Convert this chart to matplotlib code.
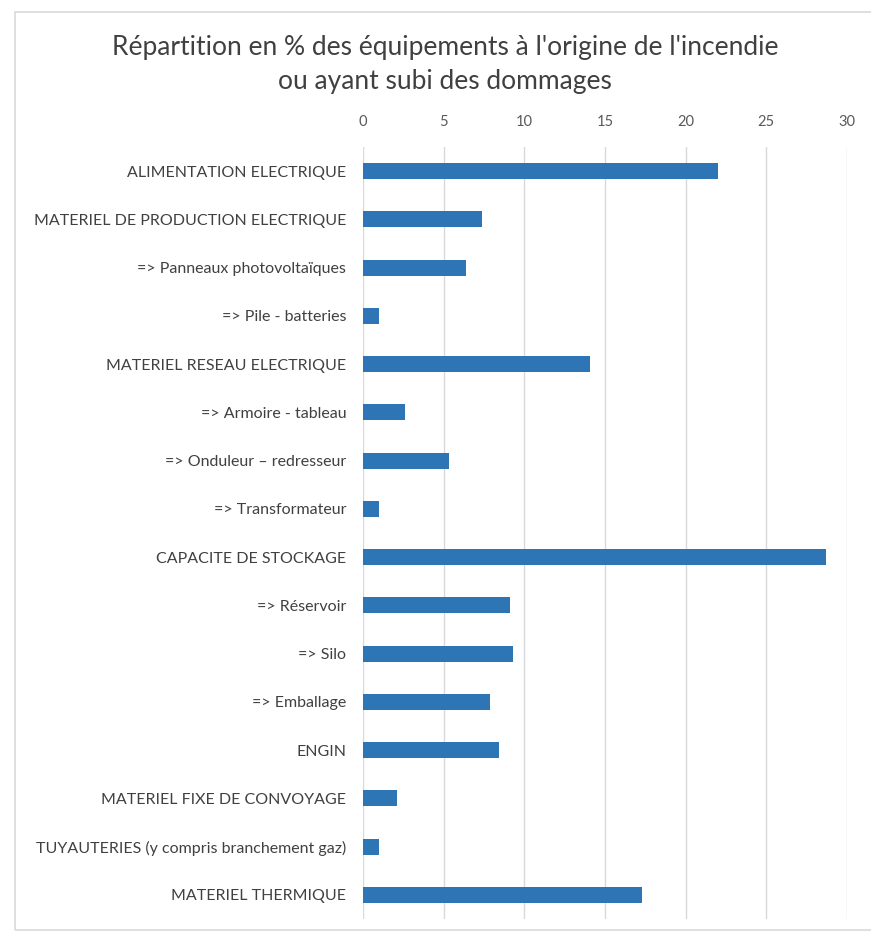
import matplotlib
matplotlib.use("Agg")
import matplotlib.pyplot as plt
from matplotlib.patches import Rectangle

categories = [
    "ALIMENTATION ELECTRIQUE",
    "MATERIEL DE PRODUCTION ELECTRIQUE",
    "=> Panneaux photovoltaïques",
    "=> Pile - batteries",
    "MATERIEL RESEAU ELECTRIQUE",
    "=> Armoire - tableau",
    "=> Onduleur – redresseur",
    "=> Transformateur",
    "CAPACITE DE STOCKAGE",
    "=> Réservoir",
    "=> Silo",
    "=> Emballage",
    "ENGIN",
    "MATERIEL FIXE DE CONVOYAGE",
    "TUYAUTERIES (y compris branchement gaz)",
    "MATERIEL THERMIQUE",
]
values = [22.0, 7.4, 6.4, 1.0, 14.1, 2.6, 5.3, 1.0, 28.7, 9.1, 9.3, 7.9, 8.4, 2.1, 1.0, 17.3]
x_ticks = [0, 5, 10, 15, 20, 25, 30]

title = "Répartition en % des équipements à l'origine de l'incendie\nou ayant subi des dommages"

plt.rcParams['font.family'] = ['Lato', 'DejaVu Sans']

W, H = 871, 935
fig = plt.figure(figsize=(W / 100, H / 100), dpi=100)

# chart border
fig.patches.append(Rectangle((15 / W, 0.005), 1.0, 1 - 12 / H - 0.005, transform=fig.transFigure,
                             fill=False, edgecolor="#d9d9d9", linewidth=1.2, zorder=0))

ax = fig.add_axes([363 / W, 1 - 919 / H, (847 - 363) / W, (919 - 147) / H])

ypos = list(range(len(categories)))
ax.barh(ypos, values, height=0.33, color="#2E75B6", zorder=3)
ax.set_ylim(len(categories) - 0.5, -0.5)
ax.set_xlim(0, 30)
ax.set_xticks(x_ticks)
ax.set_yticks(ypos)
ax.set_yticklabels(categories)
ax.xaxis.tick_top()
ax.grid(axis="x", color="#d9d9d9", linewidth=1.0, zorder=0)
for s in ax.spines.values():
    s.set_visible(False)
ax.tick_params(axis="x", length=0, pad=13, labelsize=10.5, labelcolor="#595959")
ax.tick_params(axis="y", length=0, pad=12, labelsize=11.5, labelcolor="#404040")

fig.text(445 / W, 1 - 65 / H, title, ha="center", va="center", fontsize=19,
         color="#404040", linespacing=1.45)

fig.savefig("out.png", dpi=100)
